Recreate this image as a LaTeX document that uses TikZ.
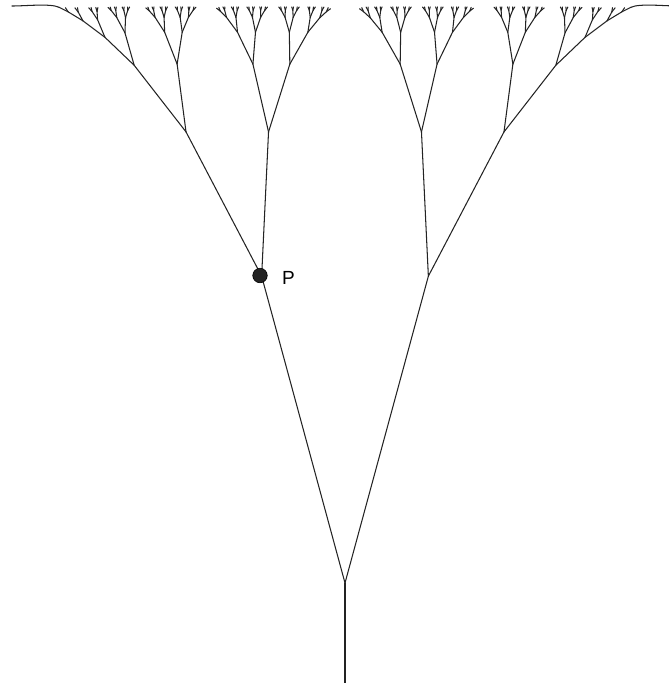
\documentclass[tikz,border=0pt]{standalone}
\usepackage{fontspec}
\setmainfont{Liberation Sans}
\definecolor{treecol}{RGB}{35,35,35}
\def\tbYz{4}
\def\tbC{0.82}
\def\tbTh{15.2}
\def\tbMaxD{7}
% #1 x, #2 y, #3 phi, #4 depth, #5 outer flag (9 = root)
\newcommand\tbBranch[5]{%
  \tbChild{#1}{#2}{#3}{-1}{#4}{#5}%
  \tbChild{#1}{#2}{#3}{1}{#4}{#5}%
}
\newcommand\tbChild[6]{%
  \begingroup
  \pgfmathsetmacro\tbNp{\tbC*(#3)+(#4)*\tbTh}%
  \pgfmathsetmacro\tbT{#2-\tbYz}%
  \pgfmathtruncatemacro\tbD{#5+1}%
  \pgfmathtruncatemacro\tbO{(#6==9)?(#4):((#6==#4)?(#6):0)}%
  \pgfmathsetmacro\tbK{min(0.53/cos(\tbNp),0.66)}%
  \ifnum\tbO=0\relax\else
    \ifnum\tbD>4
      \pgfmathsetmacro\tbK{0.66*1.25^(\tbD-4)}%
    \fi
  \fi
  \pgfmathsetmacro\tbL{\tbT*\tbK}%
  \pgfmathsetmacro\tbNx{#1+\tbL*sin(\tbNp)}%
  \pgfmathsetmacro\tbNy{#2-\tbL*cos(\tbNp)}%
  \ifnum\tbD>\tbMaxD\relax\else
    \draw[treeline] (#1,#2) -- (\tbNx,\tbNy);
    \ifnum\tbD=\tbMaxD
      \ifnum\tbO=0\relax\else
        \pgfmathsetmacro\tbEx{345+\tbO*333}%
        \pgfmathsetmacro\tbCx{\tbNx+9*sin(\tbNp)}%
        \pgfmathsetmacro\tbCy{\tbNy-9*cos(\tbNp)}%
        \pgfmathsetmacro\tbDx{\tbEx-\tbO*14}%
        \draw[treeline] (\tbNx,\tbNy) .. controls (\tbCx,\tbCy) and (\tbDx,6) .. (\tbEx,6);
      \fi
    \fi
    \edef\tbNext{\noexpand\tbBranch{\tbNx}{\tbNy}{\tbNp}{\tbD}{\tbO}}%
    \tbNext
  \fi
  \endgroup
}
\begin{document}
\begin{tikzpicture}[x=1pt,y=-1pt,
  treeline/.style={draw=treecol,line width=1.05pt,line cap=round,line join=round}]
\useasboundingbox (0,0) rectangle (669,683);
\coordinate (root) at (345,683);
\coordinate (fork) at (345,583);
\draw[treeline] (root) -- (fork);
\tbBranch{345}{583}{0}{0}{9}
\node[circle,fill=treecol,draw=black,line width=0.6pt,minimum size=14.5pt,inner sep=0pt] (pdot) at (260,275.5) {};
\node[anchor=west,inner sep=0pt,font=\fontsize{19}{22}\selectfont] (plabel) at (282,277.5) {P};
\end{tikzpicture}
\end{document}
